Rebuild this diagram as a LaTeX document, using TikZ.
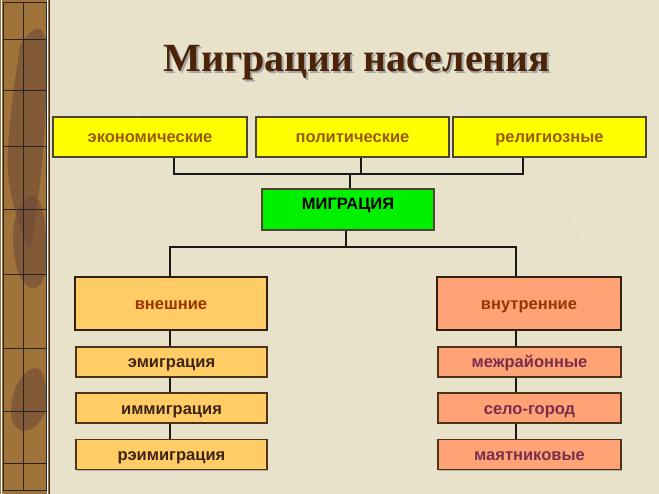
\documentclass[tikz,border=0pt]{standalone}
\usepackage{fontspec}
\setmainfont{Liberation Serif}
\newfontfamily\arialf{Liberation Sans}
\usetikzlibrary{shadows}
\definecolor{bgc}{HTML}{E8E2CB}
\definecolor{stripc}{HTML}{A0733A}
\definecolor{leafc}{HTML}{6E4A36}
\definecolor{titlec}{HTML}{4A2308}
\definecolor{yelc}{HTML}{FFFF00}
\definecolor{grnc}{HTML}{00F000}
\definecolor{orc}{HTML}{FFCC66}
\definecolor{salc}{HTML}{FFA376}
\definecolor{bordc}{HTML}{4A4630}
\definecolor{ytxt}{HTML}{9A5A00}
\definecolor{otxt}{HTML}{993300}
\definecolor{dtxt}{HTML}{3E2416}
\definecolor{ptxt}{HTML}{7A2E4A}
\tikzset{
  boxfont/.style={font=\arialf\bfseries\fontsize{16.5}{19}\selectfont, text height=13.5pt, text depth=1.5pt},
  box/.style={rectangle, inner sep=0pt, boxfont,
    draw=bordc, line width=1.8pt, drop shadow={shadow xshift=1.2pt, shadow yshift=-1.2pt, fill=black!45, opacity=0.6}},
  topbox/.style={box, fill=yelc, text=ytxt, minimum width=193pt, minimum height=40pt},
  migbox/.style={box, fill=grnc, minimum width=172pt, minimum height=41pt},
  bigbox/.style={box, line width=2.2pt, draw=black!75!brown, minimum height=53pt},
  subbox/.style={box, line width=1.3pt, draw=black!60!brown, minimum height=30pt},
  conn/.style={line width=1.8pt, draw=black!90},
}
\begin{document}
\begin{tikzpicture}[x=1pt,y=-1pt]
\useasboundingbox (0,0) rectangle (659,494);
\fill[bgc] (0,0) rectangle (659,494);
% faint texture strokes
\begin{scope}[white, opacity=0.25, line width=0.8pt]
\draw (60,60) .. controls (120,90) and (160,140) .. (200,160);
\draw (330,20) .. controls (380,60) and (420,70) .. (470,120);
\draw (560,200) .. controls (600,260) and (620,300) .. (650,330);
\draw (80,380) .. controls (120,420) and (150,450) .. (180,490);
\draw (300,300) .. controls (330,340) and (360,360) .. (400,380);
\draw (600,400) .. controls (620,430) and (640,450) .. (655,480);
\end{scope}
% left strip
\fill[stripc] (0,0) rectangle (49,494);
\begin{scope}[leafc, opacity=0.6]
\fill (20,45) .. controls (40,15) and (48,30) .. (46,60) .. controls (48,120) and (40,200) .. (30,250)
  .. controls (20,230) and (5,190) .. (8,150) .. controls (10,110) and (15,80) .. (20,45);
\fill (25,200) .. controls (45,180) and (48,240) .. (46,270) .. controls (40,300) and (20,290) .. (15,260) .. controls (10,230) and (15,210) .. (25,200);
\fill (30,370) .. controls (45,360) and (48,390) .. (46,410) .. controls (38,430) and (20,440) .. (12,420) .. controls (8,400) and (18,375) .. (30,370);
\end{scope}
\begin{scope}[line width=0.8pt, black!85]
\draw (3,2) -- (3,491) (23.5,2) -- (23.5,491) (46,2) -- (46,491);
\foreach \yy in {39,90,146,209,274,348,411,463,490} \draw (3,\yy) -- (46,\yy);
\draw (3,2) -- (46,2);
\end{scope}
\draw[white, line width=0.8pt] (1.2,0) -- (1.2,494) (47.8,0) -- (47.8,494);
\draw[black!80, line width=1pt] (49.5,0) -- (49.5,494);
% title (with its own shadow)
\node[text=titlec, font=\bfseries\fontsize{40}{44}\selectfont] (title) at (357,64)
  {\makebox[0pt][l]{\raisebox{-1.8pt}{\hspace{1.8pt}\textcolor{black!35}{Миграции населения}}}Миграции населения};
% top boxes
\node[topbox, minimum width=194pt] (ek) at (150,137) {экономические};
\node[topbox] (pol) at (352.5,137) {политические};
\node[topbox] (rel) at (549.5,137) {религиозные};
\node[migbox, label={[boxfont, text=black, yshift=6pt]center:МИГРАЦИЯ}] (mig) at (348,209.5) {};
% second level
\node[bigbox, fill=orc, text=otxt, minimum width=192pt] (vn) at (171,303.5) {внешние};
\node[subbox, fill=orc, text=dtxt, minimum width=191pt] (em) at (171.5,362) {эмиграция};
\node[subbox, fill=orc, text=dtxt, minimum width=191pt] (im) at (171.5,408) {иммиграция};
\node[subbox, fill=orc, text=dtxt, minimum width=191pt] (re) at (171.5,454.5) {рэимиграция};
\node[bigbox, fill=salc, text=otxt, minimum width=184pt] (vt) at (529,303.5) {внутренние};
\node[subbox, fill=salc, text=ptxt, minimum width=183pt] (mz) at (529.5,362) {межрайонные};
\node[subbox, fill=salc, text=ptxt, minimum width=183pt] (sg) at (529.5,408) {село-город};
\node[subbox, fill=salc, text=ptxt, minimum width=183pt] (mt) at (529.5,454.5) {маятниковые};
% connectors
\coordinate (b1) at (174,174);
\coordinate (b2) at (361,174);
\coordinate (b3) at (523,174);
\coordinate (bm) at (350,174);
\coordinate (c0) at (346,247);
\coordinate (cl) at (170,247);
\coordinate (cr) at (516,247);
\draw[conn] (ek.south -| b1) -- (b1) -- (b3) -- (rel.south -| b3);
\draw[conn] (pol.south -| b2) -- (b2);
\draw[conn] (bm) -- (mig.north -| bm);
\draw[conn] (mig.south -| c0) -- (c0);
\draw[conn] (vn.north -| cl) -- (cl) -- (cr) -- (vt.north -| cr);
\draw[conn] (vn.south -| cl) -- (em.north -| cl);
\draw[conn] (em.south -| cl) -- (im.north -| cl);
\draw[conn] (im.south -| cl) -- (re.north -| cl);
\draw[conn] (vt.south -| cr) -- (mz.north -| cr);
\draw[conn] (mz.south -| cr) -- (sg.north -| cr);
\draw[conn] (sg.south -| cr) -- (mt.north -| cr);
\end{tikzpicture}
\end{document}
